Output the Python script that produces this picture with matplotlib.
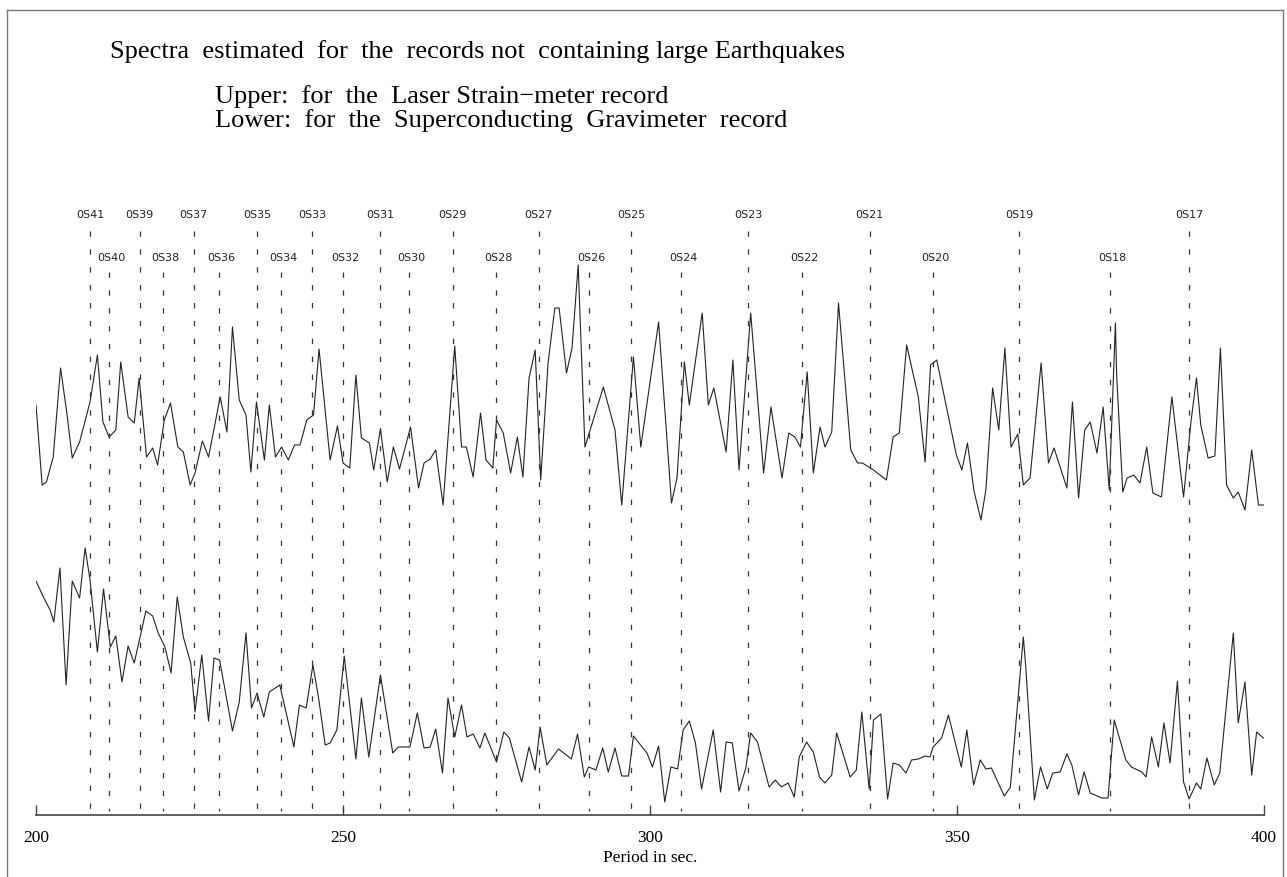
import matplotlib
matplotlib.use("Agg")
import matplotlib.pyplot as plt
from matplotlib.lines import Line2D

# Upper curve: Laser Strain-meter spectrum (period in s, relative amplitude incl. offset)
upper_period = [200.0, 201.0, 201.7, 202.8, 204.0, 205.0, 205.9, 207.1, 208.8, 210.0,
                210.9, 211.9, 213.0, 213.8, 215.0, 216.0, 216.8, 218.0, 219.0, 219.8,
                220.9, 221.9, 223.1, 224.0, 225.1, 225.9, 227.1, 228.1, 230.0, 231.1,
                232.0, 233.1, 234.2, 235.0, 235.9, 237.2, 238.0, 239.0, 240.0, 241.1,
                242.1, 243.0, 244.1, 245.2, 246.1, 247.9, 249.1, 250.0, 251.1, 252.1,
                253.0, 254.3, 255.0, 256.1, 257.2, 258.2, 259.2, 261.0, 262.3, 263.2,
                264.2, 265.1, 266.3, 268.2, 269.3, 270.1, 271.2, 272.4, 273.3, 274.4,
                275.0, 276.1, 277.3, 278.4, 279.3, 280.3, 281.3, 282.2, 283.4, 284.5,
                285.2, 286.4, 287.3, 288.3, 289.4, 292.4, 294.3, 295.4, 297.3, 298.5,
                301.4, 303.5, 304.4, 305.6, 306.4, 308.5, 309.5, 310.4, 312.4, 313.5,
                314.5, 316.4, 318.5, 319.7, 321.5, 322.6, 323.6, 324.5, 325.6, 326.6,
                327.7, 328.5, 329.6, 330.7, 332.7, 333.8, 334.6, 336.4, 338.5, 339.6,
                340.6, 341.8, 343.7, 344.8, 345.7, 346.7, 348.9, 349.9, 350.8, 351.7,
                352.8, 353.9, 354.7, 355.8, 356.8, 357.8, 358.8, 359.9, 360.8, 361.9,
                363.7, 364.9, 365.8, 367.9, 368.8, 369.8, 370.8, 371.7, 372.8, 373.8,
                374.8, 375.8, 376.0, 377.0, 377.7, 378.8, 379.8, 380.9, 381.9, 383.3,
                385.0, 386.9, 388.1, 389.0, 389.7, 390.9, 392.0, 392.9, 393.9, 395.0,
                395.8, 396.9, 398.0, 399.1, 400.0]
upper_amp = [41.0, 33.0, 33.3, 35.8, 44.7, 40.3, 35.7, 37.3, 41.3, 46.0,
             39.3, 37.8, 38.5, 45.3, 39.8, 39.2, 43.7, 35.8, 36.7, 35.0,
             39.5, 41.2, 36.8, 36.3, 33.0, 34.2, 37.4, 35.8, 41.8, 38.3,
             48.8, 41.5, 40.0, 34.3, 41.3, 35.5, 41.0, 35.8, 36.8, 35.5,
             37.0, 37.0, 39.5, 40.0, 46.6, 35.5, 38.9, 35.2, 34.7, 44.0,
             37.7, 37.2, 34.5, 38.6, 33.3, 36.8, 34.6, 38.8, 32.7, 35.2,
             35.6, 36.5, 31.0, 46.9, 36.8, 36.8, 33.8, 40.2, 35.5, 34.7,
             39.5, 38.2, 34.2, 37.8, 33.8, 43.7, 46.5, 33.5, 45.2, 50.7,
             50.7, 44.2, 46.7, 55.0, 36.8, 42.8, 38.5, 31.0, 45.8, 36.8,
             49.3, 31.2, 33.7, 45.3, 41.0, 50.2, 41.0, 42.7, 36.3, 45.5,
             34.5, 50.2, 34.2, 40.8, 33.7, 38.2, 37.8, 36.8, 44.3, 34.2,
             38.8, 36.8, 38.3, 51.2, 36.5, 35.2, 35.2, 34.5, 33.5, 37.8,
             38.2, 47.0, 41.8, 35.3, 45.0, 45.5, 39.0, 36.0, 34.5, 37.2,
             32.3, 29.5, 32.5, 42.7, 38.5, 46.7, 36.8, 38.1, 33.0, 33.7,
             45.2, 35.2, 36.7, 32.7, 41.3, 31.7, 38.5, 39.3, 36.2, 40.8,
             32.5, 49.2, 44.0, 32.3, 33.7, 34.0, 33.2, 36.8, 32.2, 31.8,
             41.8, 31.8, 39.3, 43.7, 39.0, 35.7, 35.9, 46.7, 33.0, 31.7,
             32.3, 30.5, 36.5, 31.0, 31.0]

# Lower curve: Superconducting Gravimeter spectrum
lower_period = [200.0, 201.2, 202.3, 202.9, 203.9, 204.9, 205.9, 207.1, 208.0, 208.8,
                210.0, 211.0, 212.1, 213.0, 214.0, 215.0, 216.0, 217.9, 219.0, 219.9,
                221.0, 222.0, 223.0, 224.0, 225.2, 225.9, 227.0, 228.1, 229.0, 229.9,
                232.0, 233.1, 234.2, 235.1, 236.0, 237.1, 238.0, 239.7, 240.9, 242.0,
                242.9, 244.0, 245.1, 246.0, 247.1, 247.9, 249.0, 250.2, 252.1, 253.0,
                254.2, 256.1, 258.1, 259.0, 260.9, 262.1, 263.2, 264.2, 265.1, 266.2,
                267.1, 268.2, 269.3, 270.2, 271.2, 272.3, 273.1, 275.0, 276.2, 277.1,
                279.1, 280.3, 281.3, 282.1, 283.2, 285.1, 287.2, 288.2, 289.3, 290.0,
                291.2, 292.3, 293.2, 294.3, 295.4, 296.5, 297.3, 298.6, 299.5, 300.4,
                301.4, 302.4, 303.4, 304.5, 305.4, 306.4, 307.4, 308.4, 310.3, 311.5,
                312.4, 313.4, 314.5, 315.6, 316.4, 317.5, 319.4, 320.4, 321.4, 322.5,
                323.5, 324.3, 325.5, 326.6, 327.6, 328.5, 329.6, 330.4, 332.6, 333.6,
                334.5, 335.7, 336.4, 337.6, 338.7, 339.6, 340.6, 341.7, 342.6, 343.7,
                344.8, 345.6, 346.1, 347.5, 348.6, 350.7, 351.6, 352.7, 353.8, 354.7,
                355.6, 357.7, 358.7, 360.8, 361.2, 362.6, 363.6, 364.7, 365.6, 366.8,
                367.9, 368.7, 369.8, 370.7, 371.7, 373.6, 374.6, 375.6, 377.5, 378.4,
                380.1, 380.8, 381.7, 382.8, 383.7, 384.7, 385.9, 386.9, 387.8, 389.0,
                389.7, 390.7, 391.9, 392.8, 395.0, 395.8, 396.9, 398.0, 398.8, 399.9]
lower_amp = [23.4, 21.8, 20.5, 19.3, 24.7, 13.0, 23.4, 21.7, 26.7, 23.5,
             16.3, 22.6, 16.8, 17.9, 13.3, 16.9, 15.2, 20.4, 19.9, 18.2,
             16.8, 14.2, 21.8, 17.8, 15.2, 10.3, 16.0, 9.4, 15.7, 15.5,
             8.4, 11.3, 18.2, 10.7, 12.2, 9.8, 12.3, 13.0, 9.8, 6.8,
             11.0, 10.7, 15.0, 11.8, 7.0, 7.2, 8.5, 15.9, 5.6, 11.7,
             5.8, 14.0, 6.2, 6.8, 6.8, 10.2, 6.7, 6.8, 8.6, 4.2,
             11.7, 7.8, 11.0, 7.8, 8.1, 6.7, 8.2, 5.3, 8.3, 7.7,
             3.3, 6.8, 4.5, 8.8, 5.0, 6.6, 5.6, 8.1, 3.8, 4.8,
             4.5, 6.7, 4.3, 6.7, 3.9, 3.9, 7.9, 6.9, 6.2, 4.8,
             6.9, 1.3, 4.8, 4.6, 8.5, 9.4, 7.2, 2.6, 8.5, 2.3,
             7.3, 7.2, 2.4, 4.7, 8.2, 7.3, 2.8, 3.5, 2.8, 3.2,
             1.8, 5.8, 7.3, 6.3, 3.8, 3.2, 4.0, 8.2, 3.8, 4.5,
             10.3, 2.6, 9.5, 10.1, 1.6, 5.2, 5.0, 4.2, 5.5, 5.6,
             5.9, 5.8, 6.8, 7.7, 10.0, 4.8, 8.5, 3.0, 5.5, 4.6,
             4.7, 1.9, 2.8, 17.8, 14.8, 1.5, 4.8, 2.6, 4.2, 4.3,
             6.1, 5.0, 2.0, 4.3, 2.2, 1.7, 1.7, 9.5, 5.5, 4.8,
             4.3, 3.8, 7.8, 4.8, 9.2, 5.2, 13.4, 3.3, 1.6, 3.2,
             2.6, 5.7, 3.0, 4.2, 18.2, 9.2, 13.3, 4.0, 8.3, 7.7]

# Fundamental spheroidal modes 0S41 .. 0S17 (period in s)
mode_names = ['0S41', '0S40', '0S39', '0S38', '0S37', '0S36', '0S35', '0S34', '0S33',
              '0S32', '0S31', '0S30', '0S29', '0S28', '0S27', '0S26', '0S25', '0S24',
              '0S23', '0S22', '0S21', '0S20', '0S19', '0S18', '0S17']
mode_period = [208.8, 211.9, 216.9, 220.7, 225.7, 229.8, 236.0, 239.9, 245.0,
               250.0, 256.0, 260.7, 267.9, 274.9, 281.9, 290.0, 296.9, 305.0,
               316.0, 324.8, 335.8, 346.1, 360.1, 374.9, 387.8]

fig = plt.figure(figsize=(12.87, 8.77), dpi=100)
ax = fig.add_axes([36 / 1287, 62 / 877, 1228 / 1287, 640 / 877])

line_col = '#222222'
ax.plot(upper_period, upper_amp, color=line_col, lw=0.8)
ax.plot(lower_period, lower_amp, color=line_col, lw=0.8)

# dashed mode lines with labels, odd modes on upper row, even on lower row
for i, (name, p) in enumerate(zip(mode_names, mode_period)):
    odd = (i % 2 == 0)
    top = 58.4 if odd else 54.3
    # drawn top-down so that every line starts with a dash
    ax.plot([p, p], [top, 0.4], color='#333333', lw=0.9,
            linestyle=(0, (4.3, 10.0)))
    ax.text(p if odd else p + 0.4, 60.0 if odd else 55.7, name,
            ha='center', va='center', fontsize=8, family='DejaVu Sans',
            color='#222222')

ax.set_xlim(200, 400)
ax.set_ylim(0, 64)
for s in ['top', 'left', 'right']:
    ax.spines[s].set_visible(False)
ax.spines['bottom'].set_color('#444444')
ax.spines['bottom'].set_linewidth(1.2)
ax.set_yticks([])
ax.set_xticks([200, 250, 300, 350, 400])
ax.tick_params(axis='x', direction='in', length=7, width=1.0, color='#444444',
               pad=11, labelsize=12.5)
for lab in ax.get_xticklabels():
    lab.set_family('Liberation Serif')
ax.set_xlabel('Period in sec.', family='Liberation Serif', fontsize=12.5, labelpad=3)

fig.text(110 / 1287, 1 - 52 / 877,
         'Spectra  estimated  for  the  records not  containing large Earthquakes',
         family='Liberation Serif', fontsize=19, ha='left', va='center')
fig.text(215 / 1287, 1 - 97 / 877,
         'Upper:  for  the  Laser Strain\u2212meter record',
         family='Liberation Serif', fontsize=19, ha='left', va='center')
fig.text(215 / 1287, 1 - 121 / 877,
         'Lower:  for  the  Superconducting  Gravimeter  record',
         family='Liberation Serif', fontsize=19, ha='left', va='center')

# thin frame around the picture
frame_col = '#777777'
fig.add_artist(Line2D([7 / 1287, 7 / 1287], [0, 1 - 10 / 877],
                      transform=fig.transFigure, color=frame_col, lw=1.0))
fig.add_artist(Line2D([7 / 1287, 1283 / 1287], [1 - 10 / 877, 1 - 10 / 877],
                      transform=fig.transFigure, color=frame_col, lw=1.0))
fig.add_artist(Line2D([1283 / 1287, 1283 / 1287], [0, 1 - 10 / 877],
                      transform=fig.transFigure, color=frame_col, lw=1.0))

fig.savefig('out.png', dpi=100)
